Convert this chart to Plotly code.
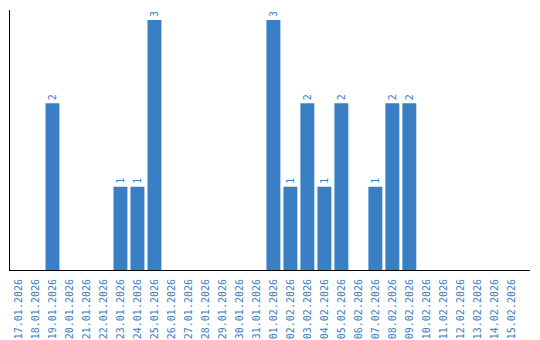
import plotly.graph_objects as go

dates = ["17.01.2026","18.01.2026","19.01.2026","20.01.2026","21.01.2026","22.01.2026",
         "23.01.2026","24.01.2026","25.01.2026","26.01.2026","27.01.2026","28.01.2026",
         "29.01.2026","30.01.2026","31.01.2026","01.02.2026","02.02.2026","03.02.2026",
         "04.02.2026","05.02.2026","06.02.2026","07.02.2026","08.02.2026","09.02.2026",
         "10.02.2026","11.02.2026","12.02.2026","13.02.2026","14.02.2026","15.02.2026"]
values = [0,0,2,0,0,0,1,1,3,0,0,0,0,0,0,3,1,2,1,2,0,1,2,2,0,0,0,0,0,0]

blue = "#3a7ec3"
labels = [str(v) if v else "" for v in values]

fig = go.Figure(go.Bar(
    x=list(range(len(dates))), y=values, marker=dict(color=blue, line=dict(width=0)),
    text=labels, textposition="outside", textangle=-90,
    textfont=dict(color=blue, size=10, family="DejaVu Sans Mono"),
    cliponaxis=False, width=0.82,
))
fig.update_layout(
    width=540, height=340, margin=dict(l=10, r=10, t=10, b=70, autoexpand=False),
    plot_bgcolor="white", paper_bgcolor="white", showlegend=False,
)
fig.update_xaxes(
    tickmode="array", tickvals=list(range(len(dates))), ticktext=dates,
    tickangle=-90, tickfont=dict(color=blue, size=10, family="DejaVu Sans Mono"),
    ticklabelstandoff=4, automargin=False,
    range=[-0.5, 30.1], showline=True, linecolor="black", linewidth=1,
    showgrid=False, ticks="", zeroline=False,
)
fig.update_yaxes(
    range=[0, 3.12], showline=True, linecolor="black", linewidth=1, automargin=False,
    showgrid=False, showticklabels=False, ticks="", zeroline=False,
)
fig.write_html("out.html")
